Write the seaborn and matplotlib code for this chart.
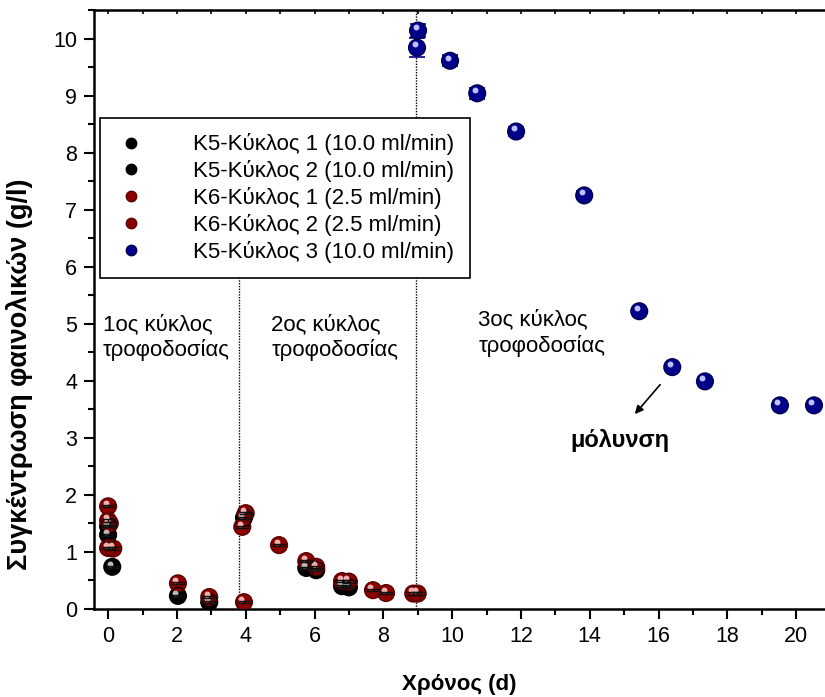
import numpy as np
import pandas as pd
import matplotlib
matplotlib.use("Agg")
import matplotlib.pyplot as plt
import matplotlib.transforms as mtransforms
from matplotlib.lines import Line2D
import seaborn as sns

# ---- data ----
k5c1_x = [0.0, 0.0, 0.12, 2.03, 2.94]
k5c1_y = [1.30, 1.45, 0.74, 0.23, 0.12]
k5c2_x = [3.95, 5.76, 6.05, 6.80, 7.00]
k5c2_y = [1.60, 0.72, 0.68, 0.40, 0.38]
k6c1_x = [0.0, 0.0, 0.05, 0.0, 0.15, 2.03, 2.94, 3.95]
k6c1_y = [1.80, 1.55, 1.50, 1.07, 1.06, 0.45, 0.21, 0.12]
k6c2_x = [3.90, 4.00, 4.97, 5.76, 6.05, 6.80, 7.00, 7.70, 8.08, 8.87, 9.00]
k6c2_y = [1.44, 1.68, 1.12, 0.84, 0.74, 0.49, 0.48, 0.33, 0.28, 0.27, 0.27]
k5c3_x = [8.98, 9.01, 9.94, 10.73, 11.86, 13.84, 15.44, 16.40, 17.35, 19.53, 20.52]
k5c3_y = [9.84, 10.14, 9.61, 9.04, 8.37, 7.25, 5.22, 4.24, 3.99, 3.57, 3.57]
k5c3_err = [0.17, 0.12, 0.10, 0.10, 0.08, 0.07, 0.03, 0.03, 0.03, 0.03, 0.03]

labels = ["K5-Κύκλος 1 (10.0 ml/min)", "K5-Κύκλος 2 (10.0 ml/min)",
          "K6-Κύκλος 1 (2.5 ml/min)", "K6-Κύκλος 2 (2.5 ml/min)",
          "K5-Κύκλος 3 (10.0 ml/min)"]
colors = ["#000000", "#000000", "#8B0000", "#8B0000", "#00008B"]
edges = ["#000000", "#000000", "#5a0000", "#5a0000", "#000050"]
highlights = ["#bbbbbb", "#bbbbbb", "#f0b0b0", "#f0b0b0", "#c0c0ff"]

series = [(k5c1_x, k5c1_y), (k5c2_x, k5c2_y), (k6c1_x, k6c1_y),
          (k6c2_x, k6c2_y), (k5c3_x, k5c3_y)]

sns.set_style("ticks")
plt.rcParams['font.family'] = ['Liberation Sans', 'DejaVu Sans']
plt.rcParams['text.color'] = 'black'
plt.rcParams['axes.labelcolor'] = 'black'
plt.rcParams['xtick.color'] = 'black'
plt.rcParams['ytick.color'] = 'black'

fig = plt.figure(figsize=(8.25, 6.97), dpi=100)
ax = fig.add_axes([94/825, 1-609/697, 1-94/825, (609-10)/697])

frames = []
for lab, (xs, ys) in zip(labels, series):
    frames.append(pd.DataFrame({"x": xs, "y": ys, "s": lab}))
df = pd.concat(frames, ignore_index=True)

MS = 145

ax.errorbar(k5c3_x, k5c3_y, yerr=k5c3_err, fmt='none', ecolor="#00008B",
            elinewidth=1.2, capsize=6, capthick=1.2, zorder=2)

sns.scatterplot(data=df, x="x", y="y", hue="s", palette=dict(zip(labels, colors)),
                s=MS, edgecolor=None, linewidth=0, legend=False, ax=ax, zorder=3)
for (xs, ys), ec, hc in zip(series, edges, highlights):
    ax.scatter(xs, ys, s=MS, facecolor='none', edgecolor=ec, linewidth=1.0, zorder=4)
    off = mtransforms.offset_copy(ax.transData, fig=fig, x=-1.8, y=2.3, units='points')
    ax.scatter(xs, ys, s=18, color=hc, linewidth=0, zorder=5, transform=off)

for xs, ys in series[:4]:
    ax.errorbar(xs, ys, yerr=[0.02]*len(xs), fmt='none', ecolor="#111111",
                elinewidth=1.0, capsize=5, capthick=1.0, zorder=6)

# vertical dotted lines
ax.plot([3.8, 3.8], [0, 6.15], color='black', linestyle=(0, (1, 1)), linewidth=1.0, zorder=1)
ax.plot([8.95, 8.95], [0, 10.49], color='black', linestyle=(0, (1, 1)), linewidth=1.0, zorder=1)

ax.set_xlim(-0.41, 20.84)
ax.set_ylim(0, 10.49)
ax.set_xticks(np.arange(0, 21, 2))
ax.set_xticks(np.arange(0, 21, 1), minor=True)
ax.set_yticks(np.arange(0, 11, 1))
ax.set_yticks(np.arange(0, 10.6, 0.5), minor=True)
ax.tick_params(axis='both', which='major', direction='out', length=7, width=1.5,
               labelsize=15.5, pad=5)
ax.tick_params(axis='both', which='minor', direction='out', length=4, width=1.5)
ax.tick_params(axis='x', which='both', top=False)
for sp in ['left', 'bottom', 'top']:
    ax.spines[sp].set_linewidth(1.8)
    ax.spines[sp].set_color('black')
ax.spines['right'].set_visible(False)

sec = ax.secondary_xaxis('top')
sec.set_xticks(np.arange(0, 21, 2))
sec.set_xticks(np.arange(0, 21, 1), minor=True)
sec.tick_params(which='both', direction='in', length=3, width=1.2, labeltop=False)
sec.spines['top'].set_visible(False)

ax.set_xlabel("Χρόνος (d)", fontsize=16, fontweight='bold', labelpad=20)
ax.set_ylabel("Συγκέντρωση φαινολικών (g/l)", fontsize=19.5, fontweight='bold')
ax.yaxis.set_label_coords(-0.083, 0.392)

# annotations
ax.text(-0.15, 4.76, "1ος κύκλος\nτροφοδοσίας", fontsize=16, va='center', ha='left', linespacing=1.25)
ax.text(4.74, 4.76, "2ος κύκλος\nτροφοδοσίας", fontsize=16, va='center', ha='left', linespacing=1.25)
ax.text(10.76, 4.84, "3ος κύκλος\nτροφοδοσίας", fontsize=16, va='center', ha='left', linespacing=1.25)
ax.text(13.45, 2.96, "μόλυνση", fontsize=17, fontweight='bold', va='center', ha='left')
ax.annotate("", xy=(15.26, 3.38), xytext=(16.1, 3.97),
            arrowprops=dict(arrowstyle='-|>', color='black', lw=1.2, mutation_scale=12))

# legend
handles = []
for c, ec, lab in zip(colors, edges, labels):
    handles.append(Line2D([], [], linestyle='none', marker='o', markersize=7.5,
                          markerfacecolor=c, markeredgecolor=ec, label=lab))
leg = ax.legend(handles=handles, loc='upper left', bbox_to_anchor=(0.008, 0.82),
                fontsize=16, frameon=True, fancybox=False, edgecolor='black',
                framealpha=1, borderpad=0.7, handletextpad=2.1, labelspacing=0.22,
                borderaxespad=0, handlelength=1.4)
leg.get_frame().set_linewidth(1.2)
leg.set_zorder(10)

fig.savefig("out.png", dpi=100)
